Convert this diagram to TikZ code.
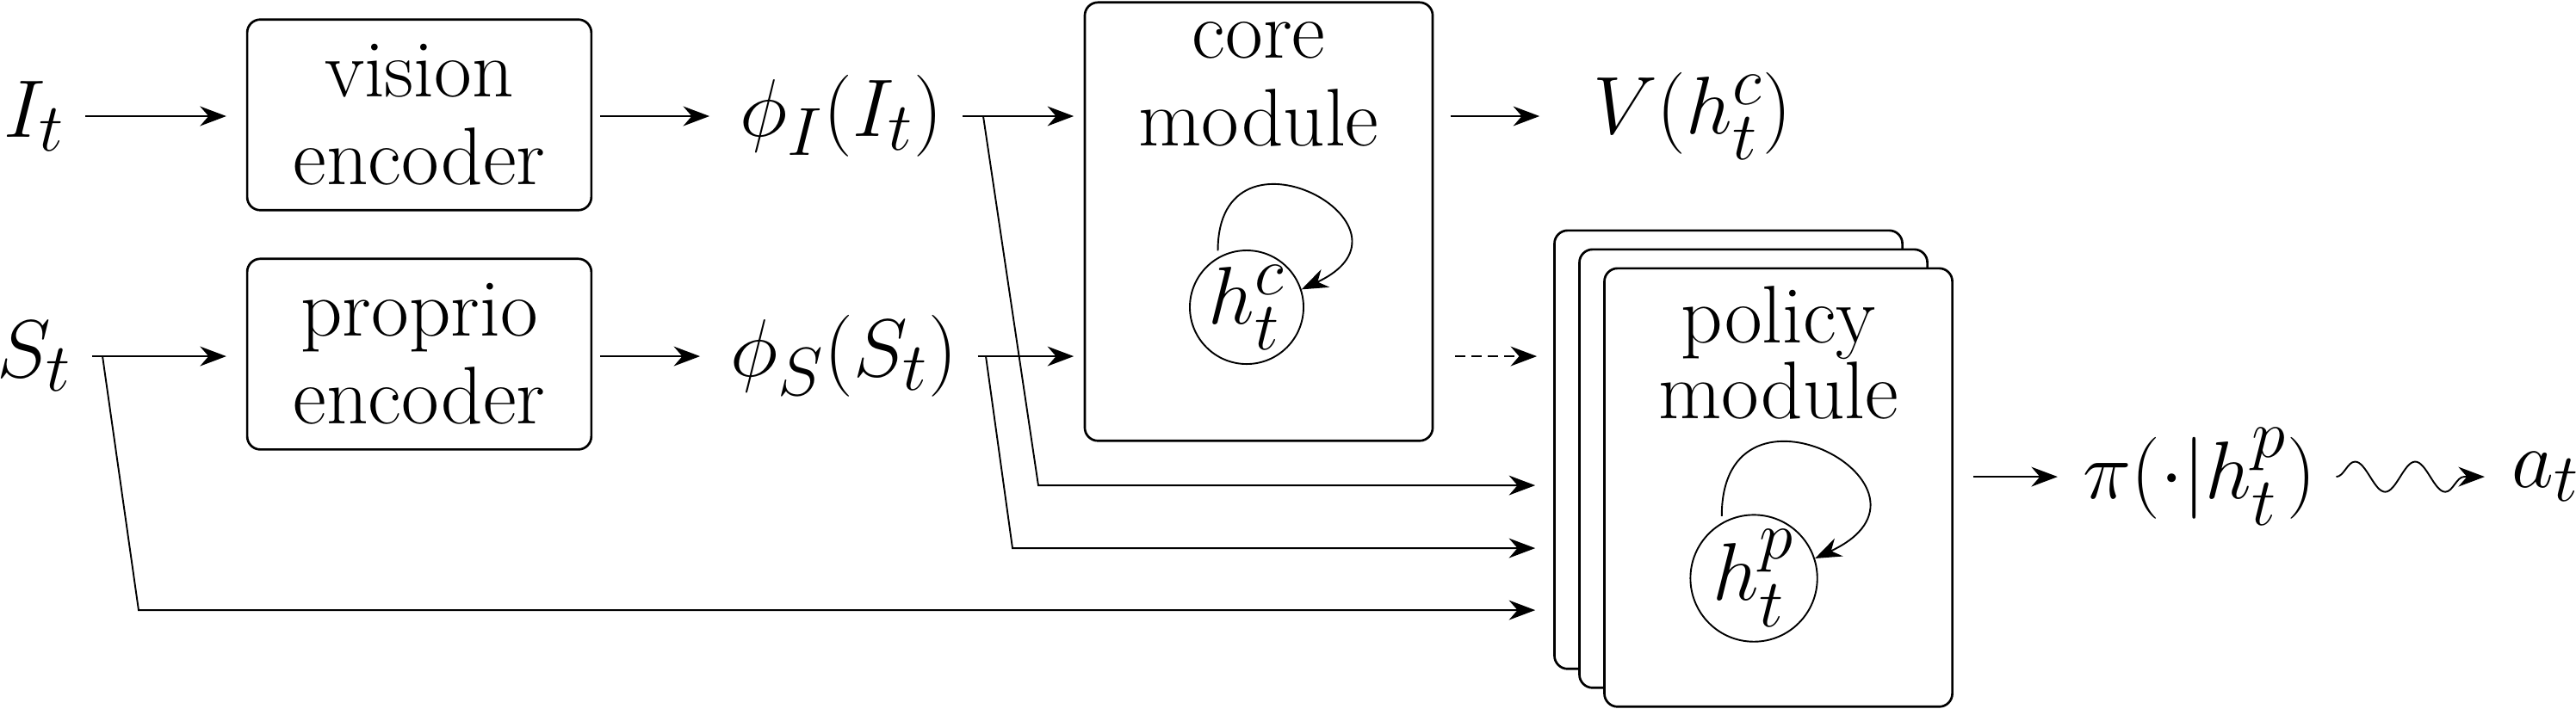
\documentclass[tikz,border=0pt]{standalone}
\usepackage{amsmath,amssymb}
\usepackage{tikz}
\usetikzlibrary{positioning,arrows.meta,decorations.pathmorphing}

\begin{document}
\begin{tikzpicture}[
  every node/.style={font=\fontsize{24.88}{26.7}\selectfont},
  encbox/.style={draw, line width=0.7pt, rectangle, rounded corners=4pt, minimum width=3.68cm, minimum height=2.04cm, align=center, inner sep=0pt},
  modbox/.style={draw, line width=0.7pt, rectangle, rounded corners=4pt, fill=white, minimum width=3.72cm, minimum height=4.69cm},
  var/.style={inner sep=6pt},
  state/.style={draw, circle, minimum size=1.16cm, inner sep=0pt, line width=0.5pt},
  lbl/.style={align=center, inner sep=0pt},
  arr/.style={-{Stealth[length=8pt,width=6pt]}, line width=0.5pt},
  selfloop/.style={-{Stealth[length=8pt,width=6pt]}, line width=0.5pt, shorten <=2pt, out=90, in=25, looseness=4.2}
]
\useasboundingbox (0,0) rectangle (27.544,7.577);

% Inputs
\node[var] (It) at (0.37,6.334) {$I_t$};
\node[var] (St) at (0.37,3.765) {$S_t$};

% Encoders
\node[encbox] (vision) at (4.483,6.348) {vision\\encoder};
\node[encbox] (proprio) at (4.483,3.788) {proprio\\encoder};

% Features
\node[var] (phiI) at (8.994,6.334) {$\phi_I(I_t)$};
\node[var] (phiS) at (9.022,3.765) {$\phi_S(S_t)$};

% Core module
\node[modbox] (core) at (13.459,5.206) {};
\node[lbl, below=6pt of core.north] (corelbl) {core\\module};
\node[state] (hc) at (13.33,4.29) {$h_t^c$};
\draw[selfloop] (hc.120) to (hc.18);

\node[var] (V) at (18.094,6.334) {$V(h_t^c)$};

% Policy modules (stack)
\foreach \i in {0,1,2}
  \node[modbox] (pol\i) at ({18.481+0.267*\i},{2.766-0.2025*\i}) {};
\node[lbl, font=\fontsize{24.88}{23}\selectfont, below=5.5pt of pol2.north] (pollbl) {policy\\module};
\node[state] (hp) at (18.753,1.39) {$h_t^p$};
\draw[selfloop] (hp.120) to (hp.18);

% Output
\node[var] (pi) at (23.517,2.476) {$\pi(\cdot|h_t^p)$};
\node[var] (act) at (27.218,2.476) {$a_t$};

% Branch points
\coordinate (s1) at (10.513,6.334);
\coordinate (s2) at (10.541,3.765);
\coordinate (s3) at (1.096,3.765);
\coordinate (b1) at (11.102,2.384);
\coordinate (b2) at (10.826,1.712);
\coordinate (b3) at (1.482,1.049);

% Connectors
\draw[arr, shorten >=6pt] (It) -- (vision.west |- It);
\draw[arr, shorten >=6pt] (St) -- (proprio.west |- St);
\draw[arr, shorten <=2.4pt, shorten >=3pt] (vision.east |- phiI) -- (phiI);
\draw[arr, shorten <=2.4pt, shorten >=3pt] (proprio.east |- phiS) -- (phiS);
\draw[arr, shorten >=3pt] (phiI) -- (core.west |- phiI);
\draw[arr, shorten >=3pt] (phiS) -- (core.west |- phiS);
\draw[arr, shorten <=5pt, shorten >=10pt] (core.east |- V) -- (V);
\draw[arr, dash pattern=on 3pt off 2pt, shorten <=6.5pt, shorten >=5pt] (core.east |- phiS) -- (pol0.west |- phiS);

\draw[arr, shorten >=5.5pt] (s1) -- (b1) -- (pol0.west |- b1);
\draw[arr, shorten >=5.5pt] (s2) -- (b2) -- (pol0.west |- b2);
\draw[arr, shorten >=5.5pt] (s3) -- (b3) -- (pol0.west |- b3);

\draw[arr, shorten <=6pt, shorten >=1.5pt] (pol2.east |- pi) -- (pi);
\draw[arr, decorate, decoration={snake, amplitude=4.6pt, segment length=18.3pt, post length=1pt}, shorten >=2pt] (pi) -- (act);

\end{tikzpicture}
\end{document}
